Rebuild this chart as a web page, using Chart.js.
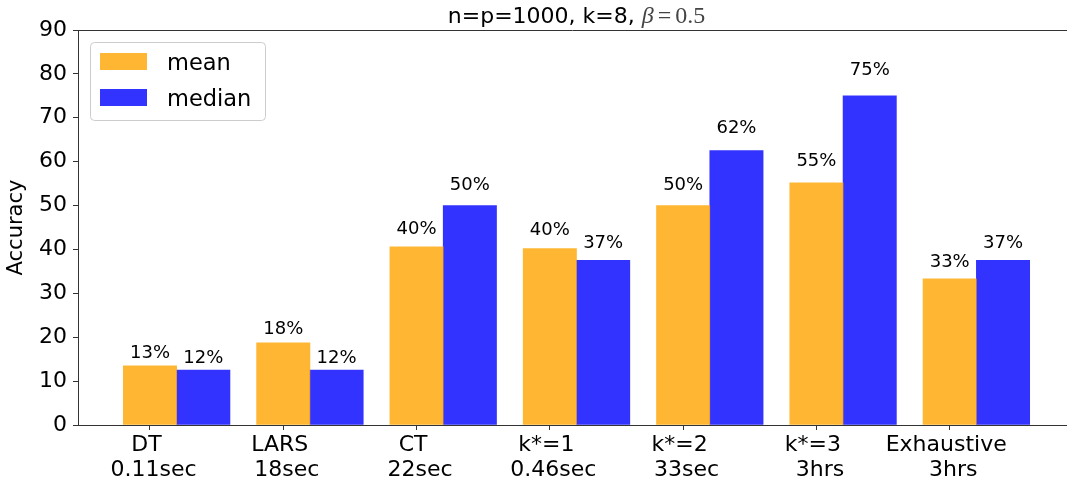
<!DOCTYPE html>
<html>
<head>
<meta charset="utf-8">
<script src="https://cdn.jsdelivr.net/npm/chart.js@4.4.0/dist/chart.umd.min.js"></script>
<style>
    html, body { margin: 0; padding: 0; background: #fff; overflow: hidden; }
</style>
</head>
<body>
<canvas id="accChart" width="1067" height="485"></canvas>
<script>
// Accuracy per method (n=p=1000, k=8, beta=0.5)
const methods = ['DT', 'LARS', 'CT', 'k*=1', 'k*=2', 'k*=3', 'Exhaustive'];
const runTimes = ['0.11sec', '18sec', '22sec', '0.46sec', '33sec', '3hrs', '3hrs'];
const meanAcc = [13.5, 18.75, 40.6, 40.2, 50, 55.2, 33.3];
const medianAcc = [12.5, 12.5, 50, 37.5, 62.5, 75, 37.5];
const meanLabels = ['13%', '18%', '40%', '40%', '50%', '55%', '33%'];
const medianLabels = ['12%', '12%', '50%', '37%', '62%', '75%', '37%'];
const yTicks = [0, 10, 20, 30, 40, 50, 60, 70, 80, 90];

const FONT = "'DejaVu Sans', sans-serif";
const barWidth = 0.4;
const xMin = -0.54;
const xMax = 6.88;   // figure is cropped on the right
const xFull = 6.94;  // where the axes really end

Chart.defaults.font.family = FONT;
Chart.defaults.color = '#000';

// extra drawing: top spine, value labels, legend, title
const extras = {
    id: 'extras',
    afterDraw(chart) {
        const c = chart.ctx;
        const area = chart.chartArea;
        const xs = chart.scales.x;
        const ys = chart.scales.y;
        c.save();

        // top spine
        c.strokeStyle = '#333';
        c.lineWidth = 1;
        c.beginPath();
        c.moveTo(area.left, area.top + 0.5);
        c.lineTo(area.right, area.top + 0.5);
        c.stroke();

        // percentage labels above bars
        c.font = '18px ' + FONT;
        c.fillStyle = '#000';
        c.textAlign = 'center';
        c.textBaseline = 'alphabetic';
        chart.data.datasets.forEach((ds, di) => {
            const meta = chart.getDatasetMeta(di);
            meta.data.forEach((bar, i) => {
                const v = ds.data[i].y;
                c.fillText(ds.pctLabels[i], bar.x, ys.getPixelForValue(v * 1.05 + 1));
            });
        });

        // legend
        c.beginPath();
        c.roundRect(90.5, 42.5, 175, 78, 4);
        c.fillStyle = 'rgba(255,255,255,0.8)';
        c.fill();
        c.strokeStyle = '#cccccc';
        c.stroke();
        c.font = '22.5px ' + FONT;
        c.textAlign = 'left';
        chart.data.datasets.forEach((ds, di) => {
            const top = 53 + di * 36;
            c.fillStyle = ds.backgroundColor;
            c.fillRect(100, top, 47, 17);
            c.fillStyle = '#000';
            c.fillText(ds.label, 167, top + 17);
        });

        // title with math part
        const cx = (area.left + xs.getPixelForValue(xFull)) / 2;
        const part1 = 'n=p=1000, k=8, ';
        c.font = '22px ' + FONT;
        const w1 = c.measureText(part1).width;
        c.font = "italic 24px 'Liberation Serif', serif";
        const wb = c.measureText('\u03b2').width;
        c.font = "24px 'Liberation Serif', serif";
        const we = c.measureText('=').width;
        const w5 = c.measureText('0.5').width;
        const gap = 4;
        let x = cx - (w1 + wb + gap + we + gap + w5) / 2;
        const base = 23;
        c.fillStyle = '#000';
        c.font = '22px ' + FONT;
        c.fillText(part1, x, base);
        x += w1;
        c.fillStyle = '#444';
        c.font = "italic 24px 'Liberation Serif', serif";
        c.fillText('\u03b2', x, base);
        x += wb + gap;
        c.font = "24px 'Liberation Serif', serif";
        c.fillText('=', x, base);
        x += we + gap;
        c.fillText('0.5', x, base);

        c.restore();
    }
};

const ctx = document.getElementById('accChart');

new Chart(ctx, {
    type: 'bar',
    data: {
        datasets: [
            {
                label: 'mean',
                data: meanAcc.map((v, i) => ({ x: i, y: v })),
                backgroundColor: 'rgba(255, 165, 0, 0.8)',
                pctLabels: meanLabels,
                grouped: false,
                categoryPercentage: 1,
                barPercentage: 1,
                borderWidth: 0
            },
            {
                label: 'median',
                data: medianAcc.map((v, i) => ({ x: i + barWidth, y: v })),
                backgroundColor: 'rgba(0, 0, 255, 0.8)',
                pctLabels: medianLabels,
                grouped: false,
                categoryPercentage: 1,
                barPercentage: 1,
                borderWidth: 0
            }
        ]
    },
    options: {
        responsive: false,
        animation: false,
        layout: { padding: { top: 30, left: 0, right: 0, bottom: 0 } },
        plugins: {
            legend: { display: false },
            title: { display: false },
            tooltip: { enabled: false }
        },
        scales: {
            x: {
                type: 'linear',
                min: xMin,
                max: xMax,
                offset: false,
                afterFit: (scale) => { scale.height = 60; },
                ticks: {
                    stepSize: 1,
                    includeBounds: false,
                    autoSkip: false,
                    maxRotation: 0,
                    padding: 3,
                    font: { size: 22, lineHeight: 1.14 },
                    color: '#000',
                    callback: (value) => {
                        const i = Math.round(value);
                        if (i !== value || !methods[i]) return '';
                        return [methods[i] + ' ', ' ' + runTimes[i]];
                    }
                },
                grid: {
                    offset: false,
                    drawOnChartArea: false,
                    drawTicks: true,
                    tickLength: 5,
                    color: '#333'
                },
                border: { color: '#333', width: 1 }
            },
            y: {
                min: 0,
                max: 90,
                afterBuildTicks: (scale) => {
                    scale.ticks = yTicks.map(v => ({ value: v }));
                },
                afterFit: (scale) => { scale.width = 78; },
                ticks: {
                    padding: 6,
                    font: { size: 22 },
                    color: '#000'
                },
                grid: {
                    drawOnChartArea: false,
                    drawTicks: true,
                    tickLength: 5,
                    color: '#333'
                },
                border: { color: '#333', width: 1 },
                title: {
                    display: true,
                    text: 'Accuracy',
                    font: { size: 21 },
                    color: '#000',
                    padding: { top: 4, bottom: 0 }
                }
            }
        }
    },
    plugins: [extras]
});
</script>
</body>
</html>
